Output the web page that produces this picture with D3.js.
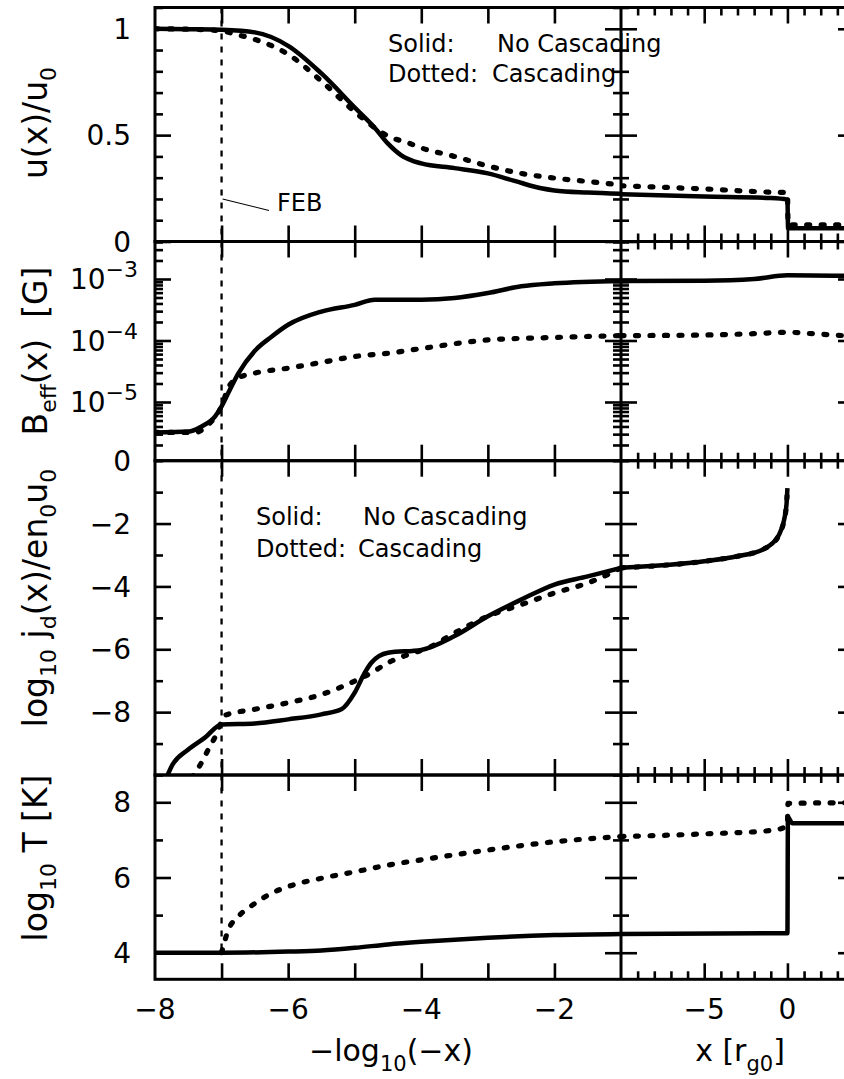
<!DOCTYPE html>
<html>
<head>
<meta charset="utf-8">
<script src="https://cdn.jsdelivr.net/npm/d3@7"></script>
<style>
body{margin:0;background:#fff}
svg text{font-family:"DejaVu Sans",sans-serif;fill:#000}
</style>
</head>
<body>
<script>
// ---- data: [x, value] ----
// left half: x = -log10(-x), right half: x in r_g0
var uSolidL = [[-8,1.0],[-7.5,0.998],[-7,0.995],[-6.5,0.983],[-6,0.92],[-5.5,0.79],[-5,0.63],[-4.7,0.535],[-4.5,0.46],[-4.3,0.405],[-4,0.367],[-3.5,0.345],[-3,0.32],[-2.6,0.285],[-2.2,0.25],[-2,0.24],[-1.5,0.23],[-1,0.224]];
var uDotL   = [[-8,1.0],[-7.5,0.998],[-7,0.99],[-6.8,0.975],[-6.5,0.95],[-6,0.88],[-5.5,0.754],[-5,0.61],[-4.7,0.535],[-4.5,0.495],[-4.2,0.464],[-4,0.44],[-3.5,0.40],[-3,0.355],[-2.5,0.32],[-2,0.298],[-1.5,0.282],[-1,0.266]];
var uSolidR = [[-10,0.222],[-5,0.211],[-1,0.204],[0,0.197],[0.04,0.062],[4,0.062]];
var uDotR   = [[-10,0.262],[-5,0.247],[-1,0.232],[0,0.23],[0.04,0.078],[4,0.078]];

var bSolidL = [[-8,3.2e-6],[-7.5,3.3e-6],[-7.3,4.0e-6],[-7.1,5.8e-6],[-7,8.5e-6],[-6.9,1.4e-5],[-6.75,2.9e-5],[-6.5,6.8e-5],[-6.25,1.15e-4],[-6,1.8e-4],[-5.5,2.95e-4],[-5,3.8e-4],[-4.7,4.6e-4],[-4,4.6e-4],[-3.5,4.9e-4],[-3,5.9e-4],[-2.5,7.6e-4],[-2,8.5e-4],[-1,9.3e-4]];
var bDotL   = [[-8,3.2e-6],[-7.4,3.2e-6],[-7.2,4.3e-6],[-7,8.5e-6],[-6.9,1.7e-5],[-6.75,2.45e-5],[-6.5,2.95e-5],[-6,3.55e-5],[-5.5,4.4e-5],[-5,5.5e-5],[-4.5,6.2e-5],[-4,7.4e-5],[-3,1.02e-4],[-2,1.12e-4],[-1,1.2e-4]];
var bSolidR = [[-10,9.3e-4],[-5,9.4e-4],[-2,1.0e-3],[0,1.15e-3],[4,1.12e-3]];
var bDotR   = [[-10,1.2e-4],[-5,1.23e-4],[-2,1.29e-4],[0,1.36e-4],[1.5,1.29e-4],[4,1.17e-4]];

var jSolidL = [[-7.85,-10.2],[-7.75,-9.72],[-7.5,-9.19],[-7.25,-8.81],[-7,-8.39],[-6.5,-8.36],[-6,-8.23],[-5.5,-8.07],[-5.2,-7.91],[-5,-7.38],[-4.85,-6.75],[-4.75,-6.43],[-4.5,-6.11],[-4,-6.02],[-3.5,-5.58],[-3,-4.95],[-2.5,-4.42],[-2,-3.94],[-1.5,-3.68],[-1,-3.41]];
var jDotL   = [[-7.45,-10.1],[-7.3,-9.6],[-7.2,-9.19],[-7.1,-8.8],[-7,-8.3],[-6.95,-8.1],[-6.5,-7.91],[-6,-7.7],[-5.5,-7.44],[-5,-7.01],[-4.75,-6.75],[-4.5,-6.43],[-4.2,-6.17],[-3.9,-5.96],[-3.5,-5.48],[-3,-4.95],[-2.5,-4.58],[-2,-4.21],[-1.5,-3.89],[-1.1,-3.52],[-1,-3.41]];
var jSolidR = [[-10,-3.41],[-5,-3.2],[-3,-3.04],[-1.5,-2.83],[-1,-2.67],[-0.5,-2.35],[-0.2,-1.88],[-0.05,-1.35],[0,-0.87]];
var jDotR   = [[-10,-3.41],[-5,-3.2],[-3,-3.04],[-1.5,-2.83],[-1,-2.67],[-0.5,-2.35],[-0.2,-1.88],[-0.05,-1.35],[0,-0.87]];

var tSolidL = [[-8,4.0],[-7,4.0],[-6,4.03],[-5.5,4.06],[-5,4.13],[-4.5,4.22],[-4,4.29],[-3,4.4],[-2,4.47],[-1,4.5]];
var tDotL   = [[-7,4.0],[-6.9,4.6],[-6.75,4.96],[-6.5,5.31],[-6.25,5.58],[-6,5.76],[-5.5,5.98],[-5,6.15],[-4.5,6.33],[-4,6.47],[-3,6.73],[-2,6.95],[-1,7.09]];
var tSolidR = [[-10,4.5],[0,4.52],[0.03,7.6],[0.3,7.44],[4,7.44]];
var tDotR   = [[-10,7.09],[-5,7.16],[-1,7.25],[0,7.37],[0.03,7.97],[4,7.99]];

var febX = -7;
var leftXLabels = [-8,-6,-4,-2];
var rightXLabels = [-5,0];

// ---- layout ----
var W = 844, H = 1079;
var xL = d3.scaleLinear().domain([-8,-1]).range([155,621]);
var xR = d3.scaleLinear().domain([-10,4]).range([621,854]);

var panels = [
  {top:7.5, bot:241.5, y:d3.scaleLinear().domain([0,1.1]), major:[0,0.5,1], nminor:11,
   labels:[[0,"0"],[0.5,"0.5"],[1,"1"]], data:[uSolidL,uDotL,uSolidR,uDotR],
   title:[["u(x)/u",0],["0",1]], cy:123},
  {top:241.5, bot:460.7, y:d3.scaleLog().domain([1.11e-6,4.07e-3]), major:[1e-5,1e-4,1e-3], log:true,
   labels:[[1e-3,"−3"],[1e-4,"−4"],[1e-5,"−5"]], data:[bSolidL,bDotL,bSolidR,bDotR],
   title:[["B",0],["eff",1],["(x)\u00a0\u00a0[G]",0]], cy:351},
  {top:460.7, bot:775, y:d3.scaleLinear().domain([-10,0]), major:[-8,-6,-4,-2], nminor:10,
   labels:[[0,"0"],[-2,"−2"],[-4,"−4"],[-6,"−6"],[-8,"−8"]], data:[jSolidL,jDotL,jSolidR,jDotR],
   title:[["log",0],["10",1],["\u00a0j",0],["d",1],["(x)/en",0],["0",1],["u",0],["0",1]], cy:598},
  {top:775, bot:979.3, y:d3.scaleLinear().domain([3.293,8.726]), major:[4,6,8], nminor:5,
   labels:[[4,"4"],[6,"6"],[8,"8"]], data:[tSolidL,tDotL,tSolidR,tDotR],
   title:[["log",0],["10",1],["\u00a0T\u00a0[K]",0]], cy:858}
];

var svg = d3.select("body").append("svg").attr("width",W).attr("height",H);
var defs = svg.append("defs");

function subText(sel, parts, size, subSize, shift){
  var down = false;
  parts.forEach(function(p){
    var t = sel.append("tspan").text(p[0]);
    if (p[1] && !down){ t.attr("dy",shift).attr("font-size",subSize); down = true; }
    else if (p[1]) { t.attr("font-size",subSize); }
    else if (down){ t.attr("dy",-shift).attr("font-size",size); down = false; }
  });
}

function ticksY(g, y, x0, side, vals, len){
  var ax = (side=="left" ? d3.axisLeft(y) : d3.axisRight(y)).tickValues(vals).tickSize(-len).tickFormat("");
  g.append("g").attr("transform","translate("+x0+",0)").call(ax)
    .call(function(s){ s.select(".domain").remove(); s.selectAll("line").attr("stroke-width",2.6); });
}
function ticksX(g, x, y0, side, vals, len){
  var ax = (side=="top" ? d3.axisTop(x) : d3.axisBottom(x)).tickValues(vals).tickSize(-len).tickFormat("");
  g.append("g").attr("transform","translate(0,"+y0+")").call(ax)
    .call(function(s){ s.select(".domain").remove(); s.selectAll("line").attr("stroke-width",2.6); });
}

var lMajor = d3.range(-7,-1);
var rAll = d3.range(-9,5);
var rMajor = [-5,0];
var rMinor = rAll.filter(function(v){ return rMajor.indexOf(v) < 0; });

panels.forEach(function(p, i){
  p.y.range([p.bot, p.top]);
  var y = p.y;
  var g = svg.append("g");
  var minor;
  if (p.log) {
    minor = y.ticks().filter(function(v){ return p.major.indexOf(v) < 0; });
  } else {
    minor = y.ticks(p.nminor).filter(function(v){ return p.major.every(function(m){ return Math.abs(m-v) > 1e-9; }); });
  }
  // y ticks, both halves, both sides
  [[155,"left"],[621,"right"],[621,"left"],[854,"right"]].forEach(function(s){
    ticksY(g, y, s[0], s[1], p.major, 16);
    ticksY(g, y, s[0], s[1], minor, 8);
  });
  // x ticks
  ticksX(g, xL, p.top, "top", lMajor, 16);
  ticksX(g, xL, p.bot, "bottom", lMajor, 16);
  ticksX(g, xR, p.top, "top", rMajor, 16);
  ticksX(g, xR, p.bot, "bottom", rMajor, 16);
  ticksX(g, xR, p.top, "top", rMinor, 8);
  ticksX(g, xR, p.bot, "bottom", rMinor, 8);

  // frame
  g.append("rect").attr("x",xL(-8)).attr("y",p.top).attr("width",xR(4)-xL(-8)).attr("height",p.bot-p.top)
    .attr("fill","none").attr("stroke","#000").attr("stroke-width",3);
  g.append("line").attr("x1",xL(-1)).attr("x2",xL(-1)).attr("y1",p.top).attr("y2",p.bot)
    .attr("stroke","#000").attr("stroke-width",3);

  // y labels
  p.labels.forEach(function(l){
    if (p.log) {
      var t = svg.append("text").attr("x",138).attr("y",y(l[0])).attr("dy","0.36em")
        .attr("text-anchor","end").attr("font-size",28);
      t.append("tspan").text("10");
      t.append("tspan").attr("dy",-12).attr("font-size",22).text(l[1]);
    } else {
      svg.append("text").attr("x",131).attr("y",y(l[0])).attr("dy","0.36em")
        .attr("text-anchor","end").attr("font-size",28).text(l[1]);
    }
  });

  // y title
  var tt = svg.append("text").attr("transform","translate(47,"+p.cy+") rotate(-90)")
    .attr("text-anchor","middle").attr("font-size",33);
  subText(tt, p.title, 33, 22, 9);

  // clips
  ["L","R"].forEach(function(side){
    var xs = side=="L" ? xL : xR;
    defs.append("clipPath").attr("id","c"+i+side).append("rect")
      .attr("x",xs.range()[0]).attr("y",p.top).attr("width",xs.range()[1]-xs.range()[0]).attr("height",p.bot-p.top);
  });
});

// FEB marker
svg.append("line").attr("x1",xL(febX)).attr("x2",xL(febX))
  .attr("y1",panels[0].top).attr("y2",panels[3].y(4))
  .attr("stroke","#000").attr("stroke-width",2.3).attr("stroke-dasharray","6,7");
svg.append("line").attr("x1",xL(febX)+1).attr("y1",panels[0].y(0.2)).attr("x2",269).attr("y2",210.5)
  .attr("stroke","#000").attr("stroke-width",1.1);
svg.append("text").attr("x",277).attr("y",211).attr("font-size",24).text("FEB");

// curves
panels.forEach(function(p, i){
  var y = p.y;
  p.data.forEach(function(d, k){
    var xs = k < 2 ? xL : xR;
    var ln = d3.line().x(function(v){ return xs(v[0]); }).y(function(v){ return y(v[1]); }).curve(d3.curveMonotoneX);
    var path = svg.append("path").attr("d",ln(d)).attr("fill","none").attr("stroke","#000")
      .attr("clip-path","url(#c"+i+(k<2?"L":"R")+")");
    if (k % 2 == 0) {
      path.attr("stroke-width",4.5).attr("stroke-linejoin","round");
    } else {
      path.attr("stroke-width",5.2).attr("stroke-linecap","round").attr("stroke-dasharray","3,11.5");
    }
  });
});

// legends
function legend(x, y1, y2, x1, x2){
  svg.append("text").attr("x",x).attr("y",y1).attr("font-size",24).text("Solid:");
  svg.append("text").attr("x",x1).attr("y",y1).attr("font-size",24).text("No Cascading");
  svg.append("text").attr("x",x).attr("y",y2).attr("font-size",24).text("Dotted:");
  svg.append("text").attr("x",x2).attr("y",y2).attr("font-size",24).text("Cascading");
}
legend(388, 52, 82, 497, 492);
legend(256, 525, 557, 363, 358);

// x labels
leftXLabels.forEach(function(v){
  svg.append("text").attr("x",xL(v)).attr("y",1019).attr("text-anchor","middle").attr("font-size",28).text(d3.format("d")(v));
});
rightXLabels.forEach(function(v){
  svg.append("text").attr("x",xR(v)).attr("y",1019).attr("text-anchor","middle").attr("font-size",28).text(d3.format("d")(v));
});

// x titles
var xt1 = svg.append("text").attr("x",391).attr("y",1061).attr("text-anchor","middle").attr("font-size",30);
subText(xt1, [["−log",0],["10",1],["(−x)",0]], 30, 21, 10);
var xt2 = svg.append("text").attr("x",740).attr("y",1061).attr("text-anchor","middle").attr("font-size",30);
subText(xt2, [["x [r",0],["g0",1],["]",0]], 30, 21, 10);
</script>
</body>
</html>
